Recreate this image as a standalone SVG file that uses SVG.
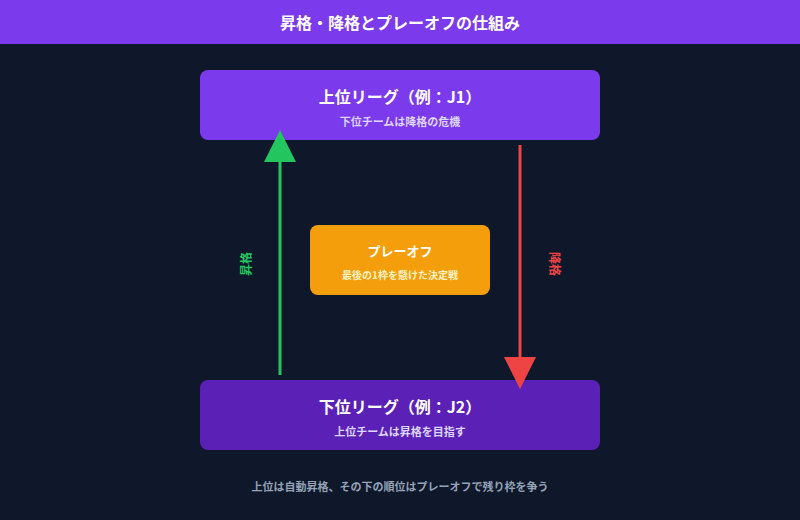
<svg xmlns="http://www.w3.org/2000/svg" width="800" height="520" viewBox="0 0 800 520">
<defs>
<style>
text{font-family:"Noto Sans CJK JP","Noto Sans",sans-serif;text-anchor:middle;dominant-baseline:central}
.t{fill:#ffffff;font-weight:700}
.box{stroke:none}
</style>
<marker id="ag" markerUnits="userSpaceOnUse" markerWidth="32" markerHeight="32" refX="0" refY="16" orient="auto" viewBox="0 0 32 32"><path d="M0,0 L32,16 L0,32 z" fill="#22c55e"/></marker>
<marker id="ar" markerUnits="userSpaceOnUse" markerWidth="32" markerHeight="32" refX="0" refY="16" orient="auto" viewBox="0 0 32 32"><path d="M0,0 L32,16 L0,32 z" fill="#ef4444"/></marker>
</defs>
<rect width="800" height="520" fill="#0f172a"/>
<g id="header">
<rect width="800" height="44" fill="#7c3aed"/>
<text class="t" x="400" y="22" font-size="16">昇格・降格とプレーオフの仕組み</text>
</g>
<g id="upper">
<rect class="box" x="200" y="70" width="400" height="70" rx="8" fill="#7c3aed"/>
<text class="t" x="400" y="96" font-size="16">上位リーグ（例：J1）</text>
<text x="400" y="121" font-size="11" font-weight="700" fill="#ddd6fe">下位チームは降格の危機</text>
</g>
<g id="playoff">
<rect class="box" x="310" y="225" width="180" height="70" rx="8" fill="#f59e0b"/>
<text class="t" x="400" y="250" font-size="13">プレーオフ</text>
<text x="400" y="274" font-size="10" font-weight="700" fill="#fef3c7">最後の1枠を懸けた決定戦</text>
</g>
<g id="lower">
<rect class="box" x="200" y="380" width="400" height="70" rx="8" fill="#5b21b6"/>
<text class="t" x="400" y="406" font-size="16">下位リーグ（例：J2）</text>
<text x="400" y="431" font-size="11" font-weight="700" fill="#ddd6fe">上位チームは昇格を目指す</text>
</g>
<g id="connectors">
<line x1="280" y1="375" x2="280" y2="162" stroke="#22c55e" stroke-width="3" marker-end="url(#ag)"/>
<line x1="520" y1="145" x2="520" y2="357" stroke="#ef4444" stroke-width="3" marker-end="url(#ar)"/>
<text x="245" y="264" font-size="12" font-weight="700" fill="#22c55e" transform="rotate(-90 245 264)">昇格</text>
<text x="555" y="264" font-size="12" font-weight="700" fill="#ef4444" transform="rotate(90 555 264)">降格</text>
</g>
<g id="footer">
<text x="400" y="486" font-size="11" font-weight="700" fill="#94a3b8">上位は自動昇格、その下の順位はプレーオフで残り枠を争う</text>
</g>
</svg>
